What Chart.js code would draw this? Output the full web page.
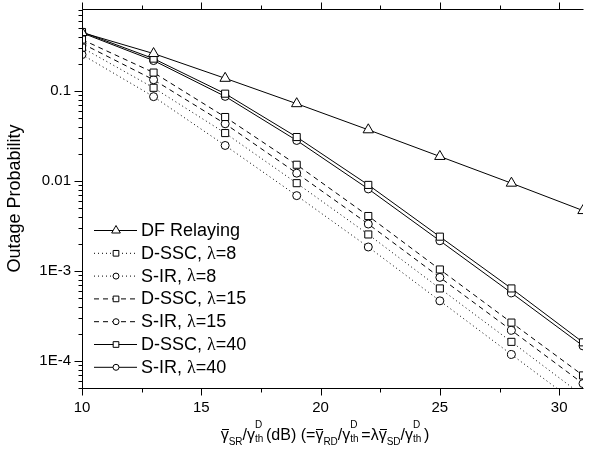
<!DOCTYPE html>
<html>
<head>
<meta charset="utf-8">
<script src="https://cdn.jsdelivr.net/npm/chart.js@4.4.1/dist/chart.umd.min.js"></script>
<style>
  body { margin: 0; background: #fff; }
  #wrap { position: relative; width: 590px; height: 456px; }
  #xtitle { position: absolute; top: 424px; left: 0; width: 650px; text-align: center;
            font: 16px "Liberation Sans", Arial, sans-serif; color: #000; white-space: nowrap; }
  .ov { position: relative; }
  .ov::before { content: ''; position: absolute; left: 1px; right: 0; top: 3px; border-top: 1px solid #000; }
  .sb { font-size: 10px; position: relative; top: 5px; }
  .st { display: inline-block; position: relative; width: 11px; height: 1em; }
  .st i { font-style: normal; font-size: 10px; position: absolute; left: 0; }
  .st .u { top: -5px; }
  .st .d { top: 9px; }
</style>
</head>
<body>
<div id="wrap">
  <canvas id="chart" width="590" height="456"></canvas>
  <div id="xtitle"><span class="ov">γ</span><span class="sb">SR</span>/γ<span class="st"><i class="u">D</i><i class="d">th</i></span>(dB) (=<span class="ov">γ</span><span class="sb">RD</span>/γ<span class="st"><i class="u">D</i><i class="d">th</i></span>=λ<span class="ov">γ</span><span class="sb">SD</span>/γ<span class="st"><i class="u">D</i><i class="d">th</i></span>)</div>
</div>
<script>
const FONT = '"Liberation Sans", Arial, sans-serif';

// SNR points (dB)
const snr = [10, 13, 16, 19, 22, 25, 28, 31];

// outage probability
const dfRelaying = [0.449, 0.262, 0.139, 0.0726, 0.0372, 0.0188, 0.00948, 0.0047];
const dssc8  = [0.305, 0.109, 0.0342, 0.00948, 0.00255, 0.00064, 0.000163, 0.000041];
const sir8   = [0.255, 0.0869, 0.0249, 0.00689, 0.00185, 0.000466, 0.000118, 0.00003];
const dssc15 = [0.375, 0.161, 0.0516, 0.0152, 0.00409, 0.00104, 0.000267, 0.000069];
const sir15  = [0.339, 0.134, 0.0434, 0.01225, 0.00333, 0.000849, 0.000219, 0.000056];
const dssc40 = [0.455, 0.230, 0.0938, 0.0309, 0.00907, 0.00241, 0.00064, 0.000161];
const sir40  = [0.445, 0.219, 0.0875, 0.0283, 0.00818, 0.00217, 0.000571, 0.000147];

const labels = ['DF Relaying', 'D-SSC, λ=8', 'S-IR, λ=8', 'D-SSC, λ=15', 'S-IR, λ=15', 'D-SSC, λ=40', 'S-IR, λ=40'];

// axis ticks
const xTicks = [10, 12.5, 15, 17.5, 20, 22.5, 25, 27.5, 30];
const xTickLabels = ['10', '', '15', '', '20', '', '25', '', '30'];
const yDecades = [0.1, 0.01, 0.001, 0.0001];
const yTickLabels = ['0.1', '0.01', '1E-3', '1E-4'];
const yMin = 5e-5, yMax = 0.82;

const DOT = [1, 3], DASH = [5, 4];

function series(i, data, style, dash) {
    return {
        label: labels[i], data: data.map((v, k) => ({ x: snr[k], y: v })),
        borderColor: '#000', borderWidth: 1, borderDash: dash,
        pointStyle: style, pointRadius: style === 'circle' ? 4 : (style === 'rect' ? 5 : 6),
        pointBackgroundColor: '#fff', pointBorderColor: '#000', pointBorderWidth: 1,
        fill: false, tension: 0
    };
}

// minor ticks on the log axis: 2..9 x each decade
const yTicks = [];
for (let e = -5; e <= 0; e++) {
    for (let m = 1; m <= 9; m++) {
        const v = m * Math.pow(10, e);
        if (v >= yMin && v <= yMax) yTicks.push({ value: v, major: m === 1 });
    }
}

const noPad = s => { s.paddingTop = 0; s.paddingBottom = 0; s.paddingLeft = 0; s.paddingRight = 0; };

const frame = {
    id: 'frame',
    afterDraw(c) {
        const { ctx, chartArea: a, scales: { x, y } } = c;
        ctx.save();
        ctx.strokeStyle = '#000';
        ctx.lineWidth = 1;
        ctx.setLineDash([]);
        ctx.beginPath();
        const L = Math.round(a.left) + 0.5, T = Math.round(a.top) + 0.5, B = Math.round(a.bottom) + 0.5, R = Math.round(a.right) + 0.5;
        ctx.moveTo(R, T); ctx.lineTo(L, T); ctx.lineTo(L, B); ctx.lineTo(R, B);
        x.ticks.forEach(t => {
            const px = Math.round(x.getPixelForValue(t.value)) + 0.5;
            const len = t.major ? 7 : 4;
            ctx.moveTo(px, B); ctx.lineTo(px, B + len);
            ctx.moveTo(px, T); ctx.lineTo(px, T - len);
        });
        y.ticks.forEach(t => {
            const py = Math.round(y.getPixelForValue(t.value)) + 0.5;
            const len = t.major ? 8 : 4;
            ctx.moveTo(L, py); ctx.lineTo(L - len, py);
        });
        ctx.stroke();
        ctx.restore();
    }
};

const legendBox = {
    id: 'legendBox',
    afterDraw(c) {
        const ctx = c.ctx;
        ctx.save();
        c.data.datasets.forEach((ds, i) => {
            const yy = 230 + i * 22.8;
            ctx.strokeStyle = '#000';
            ctx.lineWidth = 1;
            ctx.setLineDash(ds.borderDash || []);
            ctx.beginPath();
            ctx.moveTo(94, yy + 0.5); ctx.lineTo(137, yy + 0.5);
            ctx.stroke();
            ctx.setLineDash([]);
            ctx.fillStyle = '#fff';
            Chart.helpers.drawPoint(ctx, { pointStyle: ds.pointStyle, radius: ds.pointRadius - 1, borderWidth: 1 }, 116, yy + 0.5);
            // label text, λ in a serif face
            ctx.fillStyle = '#000';
            ctx.textBaseline = 'middle';
            let tx = 141;
            ds.label.split(/(λ)/).forEach(part => {
                if (!part) return;
                ctx.font = part === 'λ' ? '18px "Liberation Serif", serif' : '18px ' + FONT;
                ctx.fillText(part, tx, yy + 1);
                tx += ctx.measureText(part).width;
            });
        });
        ctx.restore();
    }
};

new Chart(document.getElementById('chart'), {
    type: 'line',
    data: {
        datasets: [
            series(0, dfRelaying, 'triangle', []),
            series(1, dssc8, 'rect', DOT),
            series(2, sir8, 'circle', DOT),
            series(3, dssc15, 'rect', DASH),
            series(4, sir15, 'circle', DASH),
            series(5, dssc40, 'rect', []),
            series(6, sir40, 'circle', [])
        ]
    },
    options: {
        responsive: false,
        animation: false,
        layout: { padding: { top: 9, right: 0, bottom: 0, left: 0 } },
        plugins: { legend: { display: false }, tooltip: { enabled: false } },
        scales: {
            x: {
                type: 'linear', min: 10, max: 31,
                grid: { display: false, drawTicks: false }, border: { display: false },
                afterBuildTicks: s => { s.ticks = xTicks.map(v => ({ value: v, major: v % 5 === 0 })); },
                afterFit: s => { s.height = 68; noPad(s); },
                ticks: {
                    autoSkip: false, maxRotation: 0, padding: 11, color: '#000',
                    font: { family: FONT, size: 15 },
                    callback: (v) => xTickLabels[xTicks.indexOf(v)] || ''
                }
            },
            y: {
                type: 'logarithmic', min: yMin, max: yMax,
                grid: { display: false, drawTicks: false }, border: { display: false },
                afterBuildTicks: s => { s.ticks = yTicks.map(t => ({ ...t })); },
                afterFit: s => { s.width = 82; noPad(s); },
                title: {
                    display: true, text: 'Outage Probability', color: '#000',
                    font: { family: FONT, size: 18 }, padding: { top: 4, bottom: 0 }
                },
                ticks: {
                    autoSkip: false, padding: 11, color: '#000',
                    font: { family: FONT, size: 15 },
                    callback: (v) => {
                        const k = yDecades.findIndex(d => Math.abs(d - v) / d < 1e-6);
                        return k >= 0 ? yTickLabels[k] : '';
                    }
                }
            }
        }
    },
    plugins: [frame, legendBox]
});
</script>
</body>
</html>
